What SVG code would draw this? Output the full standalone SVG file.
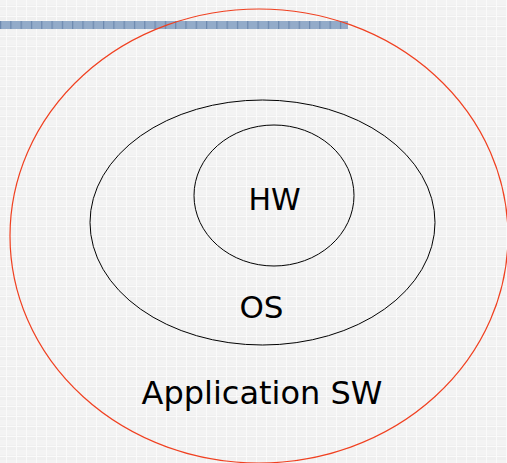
<svg xmlns="http://www.w3.org/2000/svg" width="507" height="463" viewBox="0 0 507 463">
<defs>
<pattern id="bg" width="10" height="10" patternUnits="userSpaceOnUse">
<rect width="10" height="10" fill="#efefef"/>
<rect x="0" y="0" width="10" height="5" fill="#f3f3f3"/>
<rect x="6" y="0" width="1" height="10" fill="#fafafa"/>
<rect x="0" y="6" width="10" height="1" fill="#fafafa"/>
</pattern>
<pattern id="bar" width="10.3" height="8" patternUnits="userSpaceOnUse">
<rect width="10.3" height="8" fill="#93abc9"/>
<rect x="0" y="0" width="1.2" height="8" fill="#6c88ae"/>
</pattern>
<style>
.ring{fill:none;stroke:#000;stroke-width:1}
.lbl{font-family:"DejaVu Sans",Verdana,sans-serif;fill:#000;text-anchor:middle}
</style>
</defs>
<rect width="507" height="463" fill="url(#bg)"/>
<rect x="0" y="21" width="348" height="8" fill="url(#bar)"/>
<g id="app">
<ellipse cx="259" cy="236" rx="249" ry="227" fill="none" stroke="#f04020" stroke-width="1.2"/>
<text class="lbl" x="262" y="404" font-size="32">Application SW</text>
</g>
<g id="os">
<ellipse class="ring" cx="262.5" cy="222.5" rx="172.5" ry="122.5"/>
<text class="lbl" x="261.5" y="318" font-size="31">OS</text>
</g>
<g id="hw">
<ellipse class="ring" cx="274" cy="195.5" rx="80" ry="70.5"/>
<text class="lbl" x="274.5" y="209.5" font-size="30">HW</text>
</g>
<g id="connectors"/>
</svg>
